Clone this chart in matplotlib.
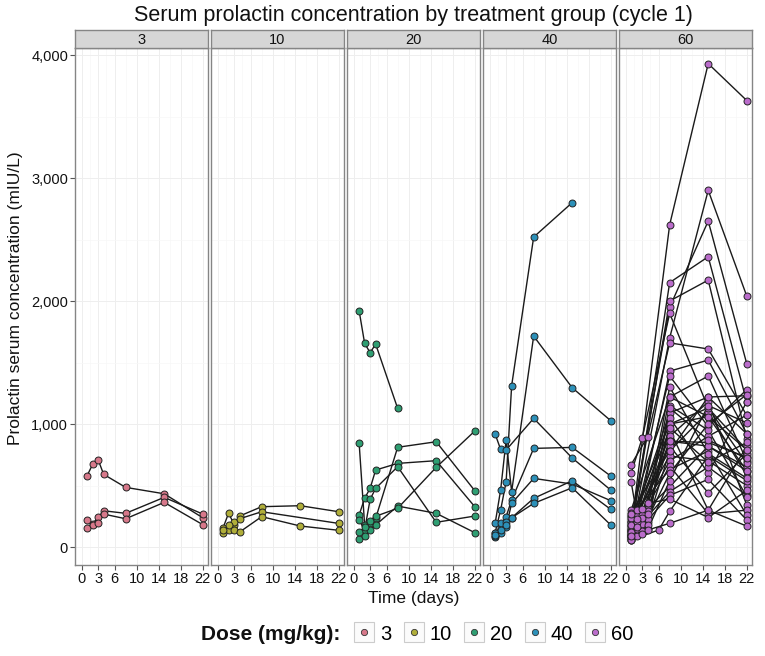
import matplotlib
matplotlib.use('Agg')
import matplotlib.pyplot as plt
from matplotlib.lines import Line2D
from matplotlib.legend_handler import HandlerTuple
from matplotlib.ticker import FuncFormatter

'''Serum prolactin by dose group, one facet per dose.'''

plt.rcParams['font.family'] = ['Liberation Sans', 'DejaVu Sans']

# ------------ data ---------------

doses = ['3', '10', '20', '40', '60']
dose_colors = ['#D7788A', '#B0AE3A', '#2E9E72', '#2C90B8', '#BA6CCB']
x_ticks = [0, 3, 6, 10, 14, 18, 22]
y_ticks = [0, 1000, 2000, 3000, 4000]

# each entry: (days, prolactin mIU/L) for one patient
dose3_series = [
    ([1, 2, 3, 4, 8, 15, 22], [580, 672, 710, 591, 485, 433, 238]),
    ([1, 2, 3, 4, 8, 15, 22], [217, 190, 241, 295, 274, 404, 268]),
    ([1, 2, 3, 4, 8, 15, 22], [157, 182, 195, 268, 230, 363, 182]),
]

dose10_series = [
    ([1, 2, 3, 4, 8, 15, 22], [157, 276, 182, 252, 328, 336, 287]),
    ([1, 2, 3, 4, 8, 22], [114, 136, 200, 230, 287, 192]),
    ([1, 2, 3, 4, 8, 15, 22], [140, 182, 136, 122, 247, 171, 136]),
]

dose20_series = [
    ([1, 2, 3, 4, 8], [1921, 1656, 1580, 1650, 1127]),
    ([1, 2, 3, 4, 8, 15, 22], [848, 180, 193, 233, 811, 856, 458]),
    ([1, 2, 3, 4, 8, 15, 22], [260, 396, 477, 626, 680, 702, 328]),
    ([1, 2, 3, 4, 8, 15, 22], [220, 138, 388, 477, 653, 201, 252]),
    ([1, 2, 3, 4, 8, 15, 22], [63, 89, 138, 179, 333, 274, 117]),
    ([1, 2, 3, 4, 8, 15, 22], [120, 160, 215, 250, 315, 648, 943]),
]

dose40_series = [
    ([1, 2, 3, 4, 8, 15], [117, 301, 531, 1312, 2520, 2800]),
    ([1, 2, 3, 4, 8, 15, 22], [192, 463, 870, 450, 1715, 1295, 1027]),
    ([1, 2, 3, 8, 15, 22], [919, 794, 789, 1046, 724, 463]),
    ([1, 2, 3, 4, 8, 15, 22], [84, 165, 247, 382, 802, 810, 577]),
    ([1, 2, 3, 4, 8, 15, 22], [117, 117, 165, 355, 558, 512, 377]),
    ([1, 2, 3, 4, 8, 15, 22], [90, 192, 200, 238, 396, 539, 306]),
    ([1, 2, 3, 4, 8, 15, 22], [100, 140, 180, 238, 355, 482, 179]),
]

dose60_series = [
    ([1, 8, 15, 22], [150, 2620, 3930, 3630]),
    ([1, 8, 15, 22], [90, 1700, 2900, 2040]),
    ([1, 8, 15, 22], [200, 1950, 2650, 1490]),
    ([1, 8, 15, 22], [110, 2150, 2360, 1180]),
    ([1, 8, 15, 22], [130, 2000, 2170, 880]),
    ([1, 3, 8, 15, 22], [600, 884, 1900, 1130, 790]),
    ([1, 4, 8, 15, 22], [670, 897, 1660, 1610, 1070]),
    ([1, 2, 8, 15, 22], [250, 200, 1430, 1520, 920]),
    ([1, 2, 8, 15, 22], [530, 274, 1390, 980, 1280]),
    ([1, 8, 15, 22], [300, 1220, 1390, 700]),
    ([1, 8, 15, 22], [170, 1090, 1220, 1230]),
    ([1, 8, 15, 22], [70, 1050, 600, 1180]),
    ([1, 8, 15, 22], [230, 1000, 1060, 620]),
    ([1, 8, 15, 22], [190, 950, 300, 820]),
    ([1, 8, 15, 22], [110, 900, 1180, 340]),
    ([1, 8, 15, 22], [57, 860, 850, 730]),
    ([1, 8, 15, 22], [150, 820, 440, 760]),
    ([1, 8, 15, 22], [280, 780, 1100, 580]),
    ([1, 8, 15, 22], [210, 740, 700, 500]),
    ([1, 8, 15, 22], [130, 700, 900, 1073]),
    ([1, 8, 15, 22], [90, 660, 270, 300]),
    ([1, 8, 15, 22], [250, 630, 780, 260]),
    ([1, 8, 15, 22], [180, 490, 820, 650]),
    ([1, 8, 15, 22], [100, 450, 650, 420]),
    ([1, 8, 15, 22], [70, 420, 550, 220]),
    ([1, 4, 8, 15, 22], [120, 355, 390, 240, 460]),
    ([1, 6, 8, 15, 22], [60, 138, 290, 740, 540]),
    ([1, 2, 8, 15, 22], [80, 111, 193, 300, 170]),
    ([1, 2, 3, 4, 8, 15, 22], [140, 180, 220, 250, 1000, 1130, 680]),
    ([1, 2, 3, 4, 8, 15, 22], [100, 130, 160, 200, 780, 1220, 920]),
    ([1, 2, 3, 4, 8, 15, 22], [200, 250, 290, 310, 1220, 1060, 790]),
    ([1, 2, 3, 4, 8, 15, 22], [160, 210, 260, 290, 860, 820, 620]),
    ([1, 2, 3, 4, 8, 15, 22], [240, 300, 190, 150, 1150, 950, 410]),
    ([1, 2, 3, 4, 8, 15, 22], [60, 90, 120, 230, 600, 1000, 1240]),
    ([1, 2, 3, 4, 8, 15, 22], [180, 150, 240, 270, 970, 690, 850]),
    ([1, 2, 3, 4, 8, 15, 22], [120, 200, 130, 180, 1130, 870, 720]),
    ([1, 2, 3, 4, 8, 15, 22], [90, 160, 110, 140, 540, 1150, 1010]),
    ([1, 2, 3, 4, 8, 15, 22], [270, 230, 310, 360, 1300, 760, 560]),
]

all_series = [dose3_series, dose10_series, dose20_series, dose40_series, dose60_series]


# ------------ plot ---------------

W, H = 765, 656
fig = plt.figure(figsize=(W / 100, H / 100), dpi=100)

left, right = 75 / W, 752 / W
bottom, top = 1 - 565 / H, 1 - 48 / H
gs = fig.add_gridspec(1, 5, left=left, right=right, bottom=bottom, top=top, wspace=0.0226)

comma = FuncFormatter(lambda v, p: f'{int(v):,}')

for i, (dose, color, series) in enumerate(zip(doses, dose_colors, all_series)):
    ax = fig.add_subplot(gs[0, i])

    # grid like theme_bw, but faint
    ax.set_xticks(x_ticks)
    ax.set_xticks([1.5, 4.5, 8, 12, 16, 20], minor=True)
    ax.set_yticks(y_ticks)
    ax.set_yticks([500, 1500, 2500, 3500], minor=True)
    ax.grid(which='major', color='#EEEEEE', lw=0.7)
    ax.grid(which='minor', color='#F7F7F7', lw=0.5)
    ax.set_axisbelow(True)

    for days, vals in series:
        ax.plot(days, vals, color='#1A1A1A', lw=1.0, zorder=2)
        ax.plot(days, vals, ls='', marker='o', ms=5, mfc=color, mec='#222222',
                mew=0.7, zorder=3)

    ax.set_xlim(-1.2, 22.95)
    ax.set_ylim(-146, 4057)

    for s in ax.spines.values():
        s.set_color('#858585')
        s.set_linewidth(1.0)

    ax.tick_params(which='major', length=3.5, color='#555555', labelsize=10.5,
                   pad=1.5, labelcolor='#111111')
    ax.tick_params(which='minor', length=0)
    if i == 0:
        ax.yaxis.set_major_formatter(comma)
    else:
        ax.tick_params(axis='y', which='major', length=0, labelleft=False)

    # facet strip
    pos = ax.get_position()
    sax = fig.add_axes([pos.x0, pos.y1, pos.width, 18 / H])
    sax.set_facecolor('#D6D6D6')
    sax.set_xticks([])
    sax.set_yticks([])
    for s in sax.spines.values():
        s.set_color('#858585')
        s.set_linewidth(1.0)
    sax.text(0.5, 0.45, dose, ha='center', va='center', fontsize=10.5,
             transform=sax.transAxes, color='#111111')

# texts
fig.text((left + right) / 2, 1 - 16 / H,
         'Serum prolactin concentration by treatment group (cycle 1)',
         ha='center', va='center', fontsize=15.5, color='#111111')
fig.text(16 / W, 1 - 298 / H, 'Prolactin serum concentration (mIU/L)',
         rotation=90, ha='center', va='center', fontsize=12.5, color='#111111')
fig.text((left + right) / 2, 1 - 598 / H, 'Time (days)',
         ha='center', va='center', fontsize=12.5, color='#111111')

# legend
fig.text(340 / W, 1 - 634 / H, 'Dose (mg/kg):', ha='right', va='center',
         fontsize=15, fontweight='bold', color='#111111')
handles = []
for color in dose_colors:
    box = Line2D([], [], ls='', marker='s', ms=15, mfc='#FBFBFB', mec='#CCCCCC', mew=0.8)
    dot = Line2D([], [], ls='', marker='o', ms=4.5, mfc=color, mec='#333333', mew=0.6)
    handles.append((box, dot))
fig.legend(handles, doses, handler_map={tuple: HandlerTuple(ndivide=1, pad=0)},
           loc='center left', bbox_to_anchor=(343 / W, 1 - 634 / H), ncol=5,
           frameon=False, fontsize=14.5, handlelength=1.1, handletextpad=0.25,
           columnspacing=0.55, borderpad=0)

fig.savefig('out.png', dpi=100)
